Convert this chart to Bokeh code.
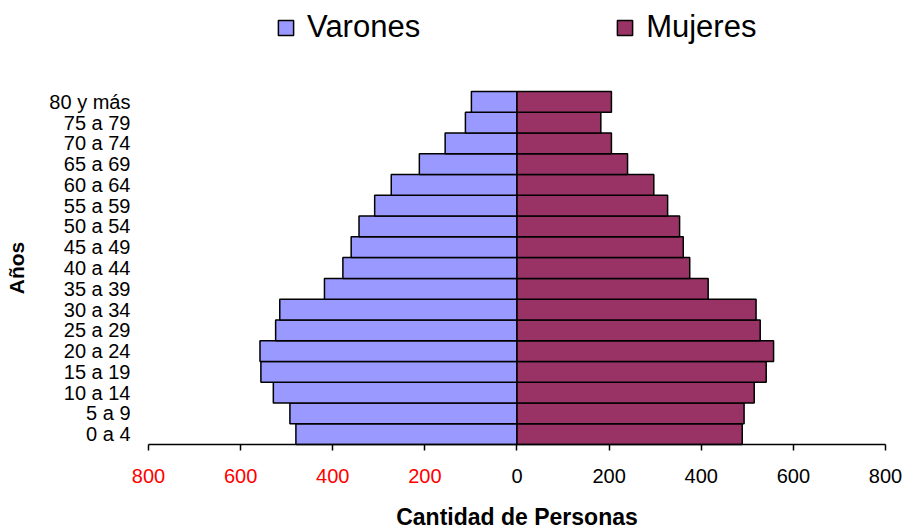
from bokeh.plotting import figure
from bokeh.models import (Range1d, FixedTicker, ColumnDataSource, LinearAxis,
                          Legend, LegendItem)
from bokeh.embed import file_html
from bokeh.resources import INLINE

# ---- data ----
grupos = ["0 a 4", "5 a 9", "10 a 14", "15 a 19", "20 a 24", "25 a 29", "30 a 34",
          "35 a 39", "40 a 44", "45 a 49", "50 a 54", "55 a 59", "60 a 64",
          "65 a 69", "70 a 74", "75 a 79", "80 y más"]
varones = [480, 493, 529, 556, 558, 524, 515, 418, 378, 360, 343, 309, 273, 212, 156, 112, 99]
mujeres = [489, 493, 515, 541, 557, 528, 519, 415, 375, 361, 353, 327, 297, 240, 205, 182, 205]
x_ticks = [-800, -600, -400, -200, 0, 200, 400, 600, 800]

FONT = "Liberation Sans"
pos = list(range(len(grupos)))

src = ColumnDataSource(dict(
    pos=pos,
    v_left=[-v for v in varones],
    zero=[0] * len(grupos),
    m_right=mujeres,
))

# the frame covers the whole canvas; axes are pinned with fixed_location
p = figure(width=906, height=528, output_backend="svg", toolbar_location=None,
           title=None,
           y_range=Range1d(-4.545, 20.882), x_range=Range1d(-1121.3, 845.6),
           min_border_left=0, min_border_right=0,
           min_border_top=0, min_border_bottom=0)
p.outline_line_color = None
p.xgrid.visible = False
p.ygrid.visible = False

r_v = p.hbar(y="pos", left="v_left", right="zero", height=1.0, source=src,
             fill_color="#9999FF", line_color="black", line_width=1.5)
r_m = p.hbar(y="pos", left="zero", right="m_right", height=1.0, source=src,
             fill_color="#993366", line_color="black", line_width=1.5)

def style_x(ax):
    ax.ticker = FixedTicker(ticks=x_ticks)
    ax.fixed_location = -0.5
    ax.bounds = (x_ticks[0], x_ticks[-1])
    ax.minor_tick_line_color = None
    ax.major_tick_in = 0
    ax.major_tick_out = 6
    ax.axis_line_width = 1.5
    ax.major_tick_line_width = 1.5
    ax.axis_line_color = "black"
    ax.major_tick_line_color = "black"
    ax.major_label_text_font = FONT
    ax.major_label_text_font_size = "20px"
    ax.major_label_standoff = 18

# main x axis: black labels for 0 and the women's side
xa = p.xaxis[0]
style_x(xa)
xa.major_label_text_color = "black"
xa.major_label_overrides = {float(t): (str(t) if t >= 0 else "") for t in x_ticks}
xa.axis_label = "Cantidad de Personas"
xa.axis_label_text_font = FONT
xa.axis_label_text_font_style = "bold"
xa.axis_label_text_font_size = "23px"
xa.axis_label_text_color = "black"
xa.axis_label_standoff = 18

# second x axis at the same place: red labels for the men's side
xr = LinearAxis()
style_x(xr)
xr.axis_line_color = None
xr.major_tick_line_color = None
xr.major_label_text_color = "red"
xr.major_label_overrides = {float(t): (str(-t) if t < 0 else "") for t in x_ticks}
p.add_layout(xr, "below")

# y axis
ya = p.yaxis[0]
ya.fixed_location = x_ticks[0]
ya.bounds = (-0.5, len(grupos) - 0.5)
ya.ticker = FixedTicker(ticks=pos)
ya.major_label_overrides = {float(i): g for i, g in zip(pos, grupos)}
ya.axis_line_color = None
ya.major_tick_line_color = None
ya.minor_tick_line_color = None
ya.major_tick_out = 0
ya.major_tick_in = 0
ya.major_label_text_font = FONT
ya.major_label_text_font_size = "20px"
ya.major_label_text_color = "black"
ya.major_label_standoff = 18
ya.axis_label = "Años"
ya.axis_label_text_font = FONT
ya.axis_label_text_font_style = "bold"
ya.axis_label_text_font_size = "21px"
ya.axis_label_text_color = "black"
ya.axis_label_standoff = 18

legend = Legend(items=[LegendItem(label="Varones", renderers=[r_v]),
                       LegendItem(label="Mujeres", renderers=[r_m])],
                orientation="horizontal", location=(276, 483),
                label_text_font=FONT, label_text_font_size="31px",
                label_text_color="black",
                glyph_width=19, glyph_height=19, label_standoff=12,
                spacing=195, padding=0, margin=0,
                border_line_color=None, background_fill_alpha=0)
p.add_layout(legend, "center")

open("out.html", "w").write(file_html(p, INLINE))
